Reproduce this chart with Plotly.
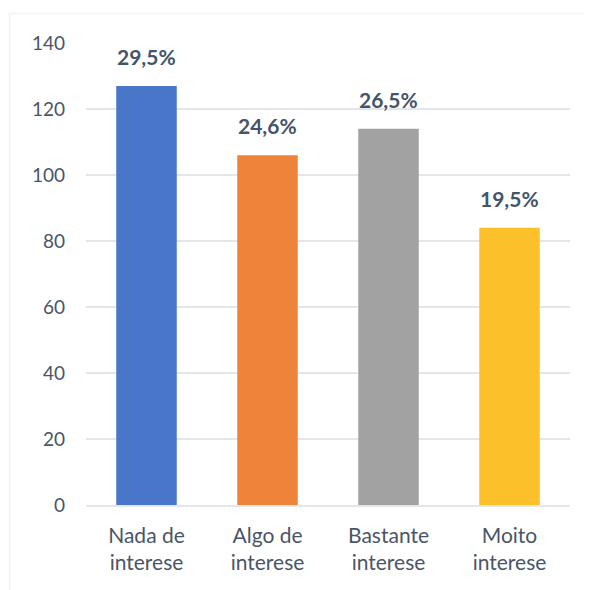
import plotly.graph_objects as go

categories = ["Nada de<br>interese", "Algo de<br>interese", "Bastante<br>interese", "Moito<br>interese"]
counts = [127, 106, 114, 84]
percent_labels = ["29,5%", "24,6%", "26,5%", "19,5%"]
bar_colors = ["#4a76c9", "#ef8339", "#a2a2a2", "#fcc12a"]

text_col = "#44546a"
tick_col = "#4a5568"

fig = go.Figure()
fig.add_trace(go.Bar(
    x=categories, y=counts,
    marker=dict(color=bar_colors, line=dict(width=0)),
    width=0.5,
))

# percentage labels above each bar
for cat, val, lab in zip(categories, counts, percent_labels):
    fig.add_annotation(x=cat, y=val, text="<b>%s</b>" % lab, showarrow=False,
                       yanchor="bottom", yshift=15,
                       font=dict(family="Lato", size=21, color=text_col))

fig.update_layout(
    template="simple_white",
    width=584, height=582,
    margin=dict(l=78, r=22, t=35, b=85),
    showlegend=False,
    font=dict(family="Lato", size=21, color=tick_col),
    shapes=[
        dict(type="line", xref="paper", yref="paper", x0=-0.158, x1=1.06, y0=1.064, y1=1.064,
             line=dict(color="#d9d9d9", width=1.5)),
        dict(type="line", xref="paper", yref="paper", x0=-0.158, x1=-0.158, y0=1.064, y1=-0.2,
             line=dict(color="#d9d9d9", width=1.5)),
    ],
)
fig.update_yaxes(range=[0, 140], dtick=20, showgrid=True, gridcolor="#e3e6ea", gridwidth=1.5,
                 showline=False, ticks="", zeroline=False,
                 tickfont=dict(family="Lato", size=19, color=tick_col), ticklabelstandoff=20)
fig.update_xaxes(showline=True, linecolor="#e3e6ea", linewidth=1.5, ticks="",
                 tickfont=dict(family="Lato", size=21, color=tick_col), ticklabelstandoff=11)

fig.write_html("out.html")
